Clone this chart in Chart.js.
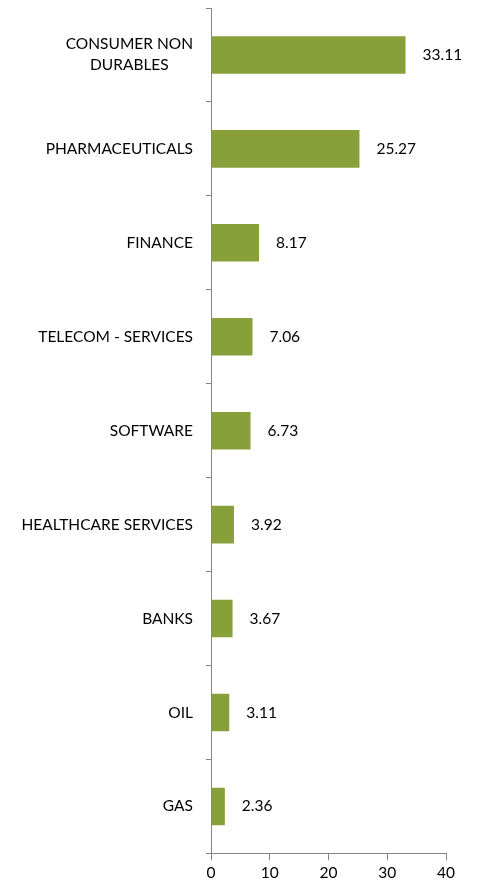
<!DOCTYPE html>
<html lang="en">
<head>
<meta charset="UTF-8">
<title>Sector Allocation</title>
<script src="https://cdn.jsdelivr.net/npm/chart.js"></script>
<style>
  body { margin: 0; background: #fff; }
  canvas { display: block; }
</style>
</head>
<body>
<canvas id="sectorChart" width="477" height="885"></canvas>
<script>
    var sectors = [
        ['CONSUMER NON', 'DURABLES'],
        'PHARMACEUTICALS',
        'FINANCE',
        'TELECOM - SERVICES',
        'SOFTWARE',
        'HEALTHCARE SERVICES',
        'BANKS',
        'OIL',
        'GAS'
    ];
    var weights = [33.11, 25.27, 8.17, 7.06, 6.73, 3.92, 3.67, 3.11, 2.36];
    var xTicks = [0, 10, 20, 30, 40];

    var FONT = 'Lato';
    var SIZE = 15.5;
    var AXIS = '#868686';

    // category names, right-aligned as a block, lines centred within it
    var sectorLabels = {
        id: 'sectorLabels',
        afterDraw: function(chart) {
            var ctx = chart.ctx;
            var y = chart.scales.y;
            var right = y.right - 18;
            ctx.save();
            ctx.font = SIZE + 'px ' + FONT;
            ctx.fillStyle = '#000';
            ctx.textBaseline = 'middle';
            ctx.textAlign = 'center';
            sectors.forEach(function(name, i) {
                var lines = Array.isArray(name) ? name : [name];
                var w = 0;
                lines.forEach(function(l) { w = Math.max(w, ctx.measureText(l).width); });
                var cy = y.getPixelForTick(i);
                var lh = 21;
                var top = cy - (lines.length - 1) * lh / 2;
                lines.forEach(function(l, k) {
                    ctx.fillText(l, right - w / 2, top + k * lh);
                });
            });
            ctx.restore();
        }
    };

    // value printed beside each bar
    var valueLabels = {
        id: 'valueLabels',
        afterDatasetsDraw: function(chart) {
            var ctx = chart.ctx;
            var meta = chart.getDatasetMeta(0);
            ctx.save();
            ctx.font = SIZE + 'px ' + FONT;
            ctx.fillStyle = '#000';
            ctx.textBaseline = 'middle';
            ctx.textAlign = 'left';
            meta.data.forEach(function(bar, i) {
                ctx.fillText(weights[i].toFixed(2), bar.x + 17, bar.y);
            });
            ctx.restore();
        }
    };

    var ctx = document.getElementById('sectorChart').getContext('2d');
    new Chart(ctx, {
        type: 'bar',
        data: {
            labels: sectors,
            datasets: [{
                data: weights,
                backgroundColor: '#87a03a',
                borderWidth: 0,
                categoryPercentage: 1,
                barPercentage: 0.4
            }]
        },
        options: {
            indexAxis: 'y',
            responsive: false,
            animation: false,
            layout: { padding: { top: 8, right: 31, left: 0, bottom: 0 } },
            plugins: {
                legend: { display: false },
                tooltip: { enabled: false }
            },
            scales: {
                x: {
                    min: 0,
                    max: 40,
                    afterBuildTicks: function(scale) {
                        scale.ticks = xTicks.map(function(v) { return { value: v }; });
                    },
                    grid: { drawOnChartArea: false, tickLength: 7, color: AXIS },
                    border: { color: AXIS },
                    ticks: { color: '#000', font: { family: FONT, size: SIZE }, padding: 3, maxRotation: 0 }
                },
                y: {
                    afterFit: function(scale) { scale.width = 211; },
                    grid: { drawOnChartArea: false, tickLength: 5, offset: true, color: AXIS },
                    border: { color: AXIS },
                    ticks: { display: false }
                }
            }
        },
        plugins: [sectorLabels, valueLabels]
    });
</script>
</body>
</html>
